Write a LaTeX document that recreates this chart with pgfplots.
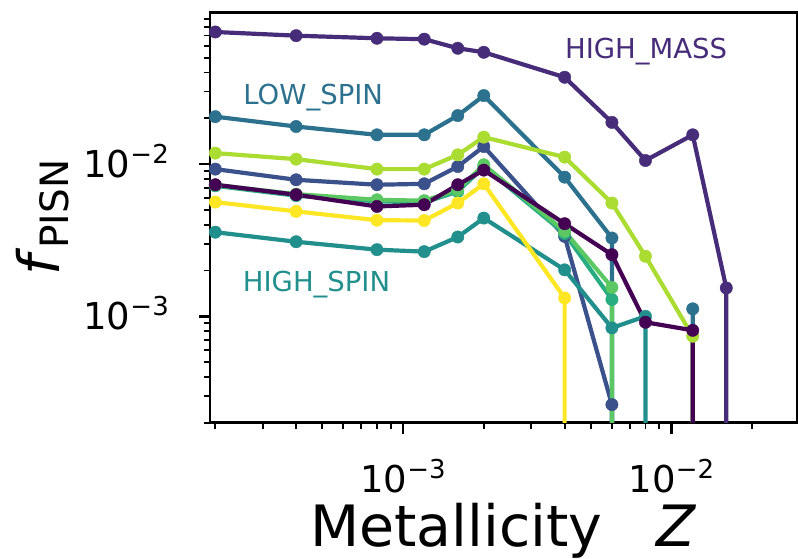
\documentclass[border=0pt]{standalone}
\usepackage{fontspec}
\setmainfont{DejaVu Sans}
\usepackage{pgfplots}
\pgfplotsset{compat=1.18}
\definecolor{c0}{HTML}{440154}
\definecolor{c1}{HTML}{472C7A}
\definecolor{c2}{HTML}{3B518B}
\definecolor{c3}{HTML}{2C718E}
\definecolor{c4}{HTML}{21908D}
\definecolor{c5}{HTML}{27AD81}
\definecolor{c6}{HTML}{5CC863}
\definecolor{c7}{HTML}{AADC32}
\definecolor{c8}{HTML}{FDE725}
\newcommand\tl[1]{10\raisebox{0.38em}{\fontsize{26}{26}\selectfont −#1}}
\begin{document}
\begin{tikzpicture}
\path[use as bounding box] (-210pt,-136.3pt) rectangle (588pt,422.7pt);
\begin{axis}[
 scale only axis, width=587pt, height=410pt,
 xmode=log, ymode=log,
 xmin=1.911e-4, xmax=2.934e-2, ymin=2e-4, ymax=0.0988,
 axis line style={line width=2.5pt},
 tick align=outside, tick pos=left,
 major tick length=11pt, minor tick length=6.3pt,
 major tick style={line width=2.5pt, black},
 minor tick style={line width=1.9pt, black},
 xtick={1e-3,1e-2}, xticklabels={\tl{3},\tl{2}},
 ytick={1e-3,1e-2}, yticklabels={\tl{3},\tl{2}},
 minor xtick={2e-4,3e-4,4e-4,5e-4,6e-4,7e-4,8e-4,9e-4,2e-3,3e-3,4e-3,5e-3,6e-3,7e-3,8e-3,9e-3,2e-2,3e-2},
 minor ytick={2e-4,3e-4,4e-4,5e-4,6e-4,7e-4,8e-4,9e-4,2e-3,3e-3,4e-3,5e-3,6e-3,7e-3,8e-3,9e-3,2e-2,3e-2,4e-2,5e-2,6e-2,7e-2,8e-2,9e-2},
 ticklabel style={font=\fontsize{37}{37}\selectfont, inner sep=0pt},
 xticklabel style={anchor=base, yshift=-59.3pt},
 yticklabel style={anchor=base east, xshift=-30pt, yshift=-13.5pt},
 every axis x label/.style={at={(axis description cs:0.5,-0.30073)}, anchor=base, inner sep=0pt, font=\fontsize{57}{57}\selectfont},
 every axis y label/.style={at={(axis description cs:-0.25554,0.5)}, rotate=90, anchor=base, inner sep=0pt, font=\fontsize{57}{57}\selectfont},
 xlabel={Metallicity\hspace{0.95em}\textit{Z}},
 ylabel={\textit{f}\raisebox{-0.15em}{\fontsize{39}{39}\selectfont PISN}},
 every axis plot/.append style={line width=4.2pt, line join=round, mark=*, mark size=6.2pt, mark options={line width=0.4pt}},
]
\addplot[c1, mark indices={1,...,11}] coordinates {(2e-4,0.0738)(4e-4,0.0698)(8e-4,0.0671)(1.2e-3,0.0662)(1.6e-3,0.0577)(2e-3,0.0543)(4e-3,0.0372)(6e-3,0.0188)(8e-3,0.01056)(1.2e-2,0.01557)(1.6e-2,1.535e-3)(1.6e-2,1e-6)};
\addplot[c2, mark indices={1,...,8}] coordinates {(2e-4,9.27e-3)(4e-4,7.89e-3)(8e-4,7.32e-3)(1.2e-3,7.42e-3)(1.6e-3,9.64e-3)(2e-3,0.01305)(4e-3,3.35e-3)(6e-3,2.63e-4)(6e-3,1e-6)};
\addplot[c3, mark indices={1,...,8}] coordinates {(2e-4,0.0205)(4e-4,0.01766)(8e-4,0.01557)(1.2e-3,0.01557)(1.6e-3,0.02084)(2e-3,0.0282)(4e-3,8.21e-3)(6e-3,3.27e-3)(6e-3,1e-6)(1.2e-2,1e-6)(1.2e-2,1.12e-3)(1.2e-2,1e-6)};
\addplot[c3, only marks, forget plot] coordinates {(1.2e-2,1.12e-3)};
\addplot[c4, mark indices={1,...,9}] coordinates {(2e-4,3.57e-3)(4e-4,3.09e-3)(8e-4,2.74e-3)(1.2e-3,2.66e-3)(1.6e-3,3.32e-3)(2e-3,4.42e-3)(4e-3,2.02e-3)(6e-3,8.39e-4)(8e-3,1.0e-3)(8e-3,1e-6)};
\addplot[c5, mark indices={1,...,8}] coordinates {(2e-4,7.2e-3)(4e-4,6.2e-3)(8e-4,5.7e-3)(1.2e-3,5.6e-3)(1.6e-3,6.6e-3)(2e-3,9.6e-3)(4e-3,3.5e-3)(6e-3,1.29e-3)(6e-3,1e-6)};
\addplot[c6, mark indices={1,...,8}] coordinates {(2e-4,7.3e-3)(4e-4,6.35e-3)(8e-4,5.83e-3)(1.2e-3,5.75e-3)(1.6e-3,6.78e-3)(2e-3,9.9e-3)(4e-3,3.62e-3)(6e-3,1.55e-3)(6e-3,1e-6)};
\addplot[c7, mark indices={1,...,10}] coordinates {(2e-4,0.01181)(4e-4,0.01078)(8e-4,9.27e-3)(1.2e-3,9.27e-3)(1.6e-3,0.01151)(2e-3,0.01504)(4e-3,0.01111)(6e-3,5.55e-3)(8e-3,2.48e-3)(1.2e-2,7.4e-4)(1.2e-2,1e-6)};
\addplot[c8, mark indices={1,...,7}] coordinates {(2e-4,5.63e-3)(4e-4,4.89e-3)(8e-4,4.28e-3)(1.2e-3,4.26e-3)(1.6e-3,5.55e-3)(2e-3,7.42e-3)(4e-3,1.32e-3)(4e-3,1e-6)};
\addplot[c0, mark indices={1,...,10}] coordinates {(2e-4,7.32e-3)(4e-4,6.29e-3)(8e-4,5.27e-3)(1.2e-3,5.41e-3)(1.6e-3,7.32e-3)(2e-3,9.13e-3)(4e-3,4.06e-3)(6e-3,2.54e-3)(8e-3,9.14e-4)(1.2e-2,8.09e-4)(1.2e-2,1e-6)};
\node[anchor=base west, inner sep=0pt, text=c1, font=\fontsize{27.5}{27.5}\selectfont] at (axis cs:4.01e-3,0.0496) {HIGH\_MASS};
\node[anchor=base west, inner sep=0pt, text=c3, font=\fontsize{27.5}{27.5}\selectfont] at (axis cs:2.54e-4,0.02449) {LOW\_SPIN};
\node[anchor=base west, inner sep=0pt, text=c4, font=\fontsize{27.5}{27.5}\selectfont] at (axis cs:2.53e-4,1.452e-3) {HIGH\_SPIN};
\end{axis}
\end{tikzpicture}
\end{document}
